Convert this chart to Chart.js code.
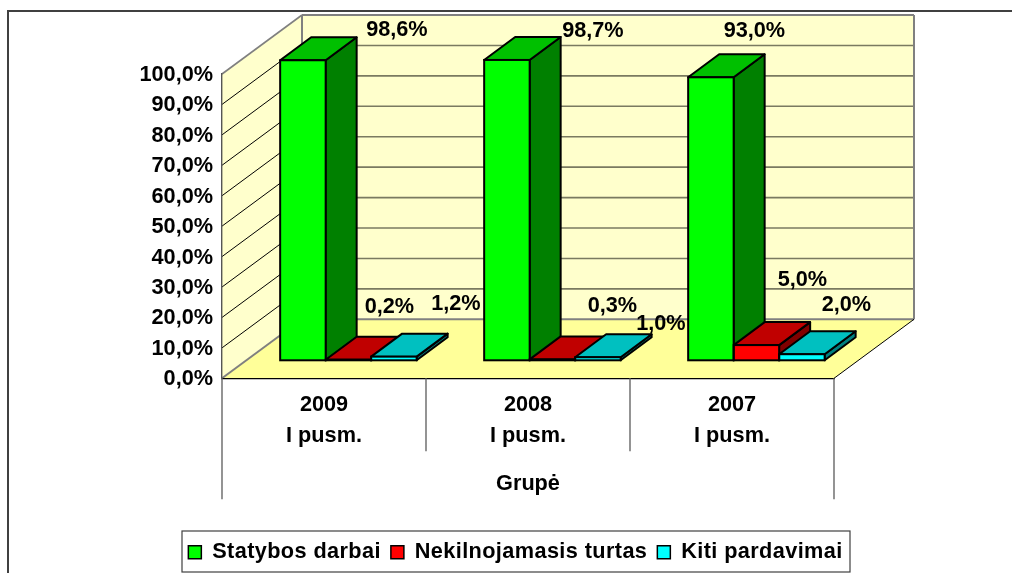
<!DOCTYPE html>
<html>
<head>
<meta charset="utf-8">
<style>html,body{margin:0;padding:0;background:#fff}#w{width:1012px;height:573px}</style>
<script src="https://cdn.jsdelivr.net/npm/chart.js@4"></script>
</head>
<body>
<div id="w"><canvas id="c" width="1012" height="573"></canvas></div>
<script>
const categories = [["2009", "I pusm."], ["2008", "I pusm."], ["2007", "I pusm."]];
const axisTitle = "Grupė";
const statybosDarbai = [98.6, 98.7, 93.0];
const nekilnojamasTurtas = [0.2, 0.3, 5.0];
const kitiPardavimai = [1.2, 1.0, 2.0];
const seriesNames = ["Statybos darbai", "Nekilnojamasis turtas", "Kiti pardavimai"];
const frontColors = ["#00FF00", "#FF0000", "#00FFFF"];
const topColors = ["#00C000", "#C00000", "#00C0C0"];
const sideColors = ["#008000", "#800000", "#008080"];

// hand-placed data labels, relative to the top centre of each bar's front face
const labelNudges = [
  [[94, -30], [86, -29], [43.5, -46]],
  [[41, -53], [60, -53], [46, -65]],
  [[62, -53], [63, -33], [44.5, -49]]
];

const FONT = "'Liberation Sans', Arial, sans-serif";
const FS = 21.7;
const WALL = { dx: 80, dy: -59 };
const OFF = { dx: 24.4, dy: -18 };
const BAR = { dx: 31, dy: -23 };
const EDGE = 2;
const fmt = v => v.toFixed(1).replace(".", ",") + "%";

function poly(ctx, pts, fill, stroke, lw) {
  ctx.beginPath();
  pts.forEach((p, i) => i ? ctx.lineTo(p[0], p[1]) : ctx.moveTo(p[0], p[1]));
  ctx.closePath();
  if (fill) { ctx.fillStyle = fill; ctx.fill(); }
  if (stroke) { ctx.strokeStyle = stroke; ctx.lineWidth = lw; ctx.stroke(); }
}
function seg(ctx, x1, y1, x2, y2, color, lw) {
  ctx.beginPath(); ctx.moveTo(x1, y1); ctx.lineTo(x2, y2);
  ctx.strokeStyle = color; ctx.lineWidth = lw; ctx.stroke();
}

const scene = {
  id: "scene",
  beforeLayout(chart) {
    const lg = chart.legend, ctx = chart.ctx;
    if (lg && !lg._spaced) {
      lg._spaced = true;
      const fit = lg.fit, draw = lg.draw;
      lg.fit = function () { ctx.letterSpacing = "0.4px"; fit.call(this); ctx.letterSpacing = "0px"; };
      lg.draw = function () { ctx.letterSpacing = "0.4px"; draw.call(this); ctx.letterSpacing = "0px"; };
    }
  },
  afterLayout(chart) {
    const lg = chart.legend, w = lg.right - lg.left, cx = 515.5;
    lg.left = cx - w / 2; lg.right = cx + w / 2;
  },
  beforeDraw(chart) {
    const ctx = chart.ctx, a = chart.chartArea, y = chart.scales.y;
    ctx.save();
    // page frame
    seg(ctx, 7, 11, 1012, 11, "#404040", 2);
    seg(ctx, 8, 10, 8, 573, "#404040", 2);
    const L = a.left, R = a.right, T = a.top, B = a.bottom;
    const dx = WALL.dx, dy = WALL.dy;
    // walls and floor
    poly(ctx, [[L + dx, T + dy], [R + dx, T + dy], [R + dx, B + dy], [L + dx, B + dy]], "#FFFFCC");
    poly(ctx, [[L, B], [L, T], [L + dx, T + dy], [L + dx, B + dy]], "#FFFFCC");
    poly(ctx, [[L, B], [R, B], [R + dx, B + dy], [L + dx, B + dy]], "#FFFF99");
    // gridlines from the value axis
    y.ticks.forEach(t => {
      const py = y.getPixelForValue(t.value);
      if (t.value > 0 && t.value < 100) {
        seg(ctx, L, py, L + dx, py + dy, "#000", 1);
        seg(ctx, L + dx, py + dy, R + dx, py + dy, "#7A7A60", 1.6);
      }
    });
    seg(ctx, L, T, L + dx, T + dy, "#808080", 1.6);
    seg(ctx, L + dx, T + dy, R + dx, T + dy, "#808080", 2);
    seg(ctx, L + dx, T + dy, L + dx, B + dy, "#808080", 2);
    seg(ctx, R + dx, T + dy, R + dx, B + dy, "#808080", 2);
    seg(ctx, L + dx, B + dy, R + dx, B + dy, "#808080", 2);
    seg(ctx, L, B, L + dx, B + dy, "#808080", 2);
    seg(ctx, R, B, R + dx, B + dy, "#000", 1);
    ctx.restore();
  },
  beforeDatasetsDraw(chart) {
    const ctx = chart.ctx;
    ctx.save();
    ctx.lineJoin = "round";
    categories.forEach((_, i) => {
      chart.data.datasets.forEach((ds, s) => {
        const b = chart.getDatasetMeta(s).data[i];
        const l = b.x - b.width / 2 + OFF.dx, r = b.x + b.width / 2 + OFF.dx;
        const t = b.y + OFF.dy, bt = b.base + OFF.dy;
        poly(ctx, [[r, bt], [r, t], [r + BAR.dx, t + BAR.dy], [r + BAR.dx, bt + BAR.dy]], sideColors[s], "#000", EDGE);
        poly(ctx, [[l, t], [r, t], [r + BAR.dx, t + BAR.dy], [l + BAR.dx, t + BAR.dy]], topColors[s], "#000", EDGE);
      });
    });
    ctx.restore();
    ctx.save();
    ctx.translate(OFF.dx, OFF.dy);
  },
  afterDatasetsDraw(chart) {
    const ctx = chart.ctx;
    ctx.restore();
    ctx.save();
    chart.data.datasets.forEach((ds, s) => {
      chart.getDatasetMeta(s).data.forEach((b, i) => {
        const l = b.x - b.width / 2 + OFF.dx, t = b.y + OFF.dy, h = b.base - b.y;
        ctx.strokeStyle = "#000"; ctx.lineWidth = EDGE;
        ctx.strokeRect(l, t, b.width, h);
      });
    });
    ctx.font = "bold " + FS + "px " + FONT;
    ctx.fillStyle = "#000";
    ctx.textAlign = "center";
    ctx.textBaseline = "middle";
    chart.data.datasets.forEach((ds, s) => {
      chart.getDatasetMeta(s).data.forEach((b, i) => {
        const n = labelNudges[s][i];
        ctx.fillText(fmt(ds.data[i]), b.x + OFF.dx + n[0], b.y + OFF.dy + n[1]);
      });
    });
    ctx.restore();
  },
  afterDraw(chart) {
    const ctx = chart.ctx, x = chart.scales.x, a = chart.chartArea;
    ctx.save();
    // multi-level category separators
    const n = categories.length, step = (x.right - x.left) / n;
    for (let i = 0; i <= n; i++) {
      const px = x.left + i * step, outer = i === 0 || i === n;
      seg(ctx, px, a.bottom, px, a.bottom + (outer ? 121 : 73), "#666", 1.4);
    }
    // legend frame
    ctx.strokeStyle = "#404040"; ctx.lineWidth = 1.2;
    ctx.strokeRect(182, 531, 668, 41);
    ctx.restore();
  }
};

new Chart(document.getElementById("c"), {
  type: "bar",
  data: {
    labels: categories,
    datasets: [statybosDarbai, nekilnojamasTurtas, kitiPardavimai].map((d, s) => ({
      label: seriesNames[s], data: d,
      backgroundColor: frontColors[s], borderColor: "#000", borderWidth: 0
    }))
  },
  options: {
    responsive: false,
    animation: false,
    events: [],
    layout: { padding: { top: 74, right: 178, left: 0, bottom: 0 } },
    datasets: { bar: { categoryPercentage: 0.669, barPercentage: 1, clip: false } },
    plugins: {
      tooltip: { enabled: false },
      legend: {
        position: "bottom",
        labels: {
          boxWidth: 13, boxHeight: 13, padding: 10, color: "#000",
          font: { family: FONT, weight: "bold", size: FS },
          generateLabels(chart) {
            return Chart.defaults.plugins.legend.labels.generateLabels(chart).map(it => {
              it.lineWidth = 1.5; it.strokeStyle = "#000"; return it;
            });
          }
        }
      }
    },
    scales: {
      x: {
        grid: { display: false, drawTicks: false },
        border: { display: true, color: "#000", width: 1.2 },
        afterFit(s) { s.height = 153; },
        ticks: {
          color: "#000", maxRotation: 0, padding: 11,
          font: { family: FONT, weight: "bold", size: FS, lineHeight: 1.43 }
        },
        title: {
          display: true, text: axisTitle, color: "#000",
          font: { family: FONT, weight: "bold", size: FS },
          padding: { top: 0, bottom: 34 }
        }
      },
      y: {
        min: 0, max: 100,
        grid: { display: false, drawTicks: false },
        border: { display: true, color: "#555", width: 1.4 },
        afterFit(s) { s.width = 222; },
        ticks: {
          stepSize: 10, color: "#000", padding: 9, labelOffset: 1,
          font: { family: FONT, weight: "bold", size: FS },
          callback: v => fmt(v)
        }
      }
    }
  },
  plugins: [scene]
});
</script>
</body>
</html>
